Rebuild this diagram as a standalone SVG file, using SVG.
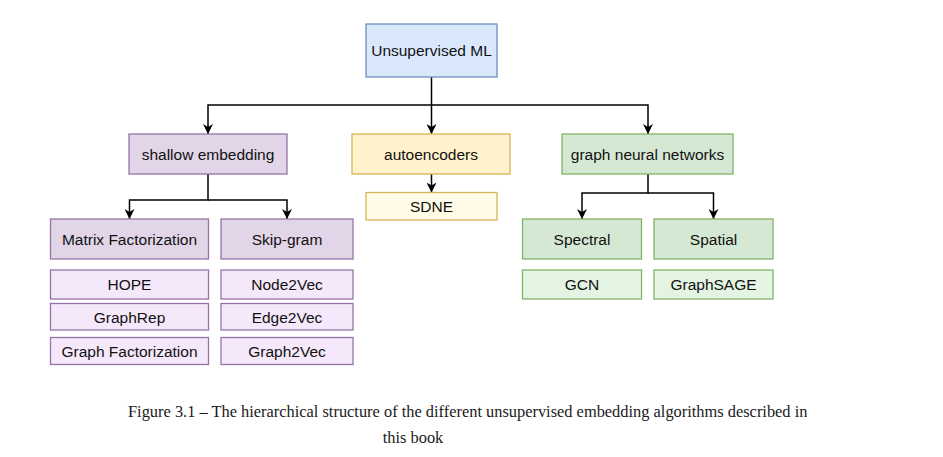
<svg xmlns="http://www.w3.org/2000/svg" width="943" height="457" viewBox="0 0 943 457">
<defs>
<marker id="arr" viewBox="0 0 10 10" refX="10" refY="5" markerWidth="10" markerHeight="10" markerUnits="userSpaceOnUse" orient="auto">
<path d="M0,0 L10,5 L0,10 L3,5 Z" fill="#000"/>
</marker>
</defs>
<style>
.n text{font-family:"Liberation Sans",Arial,sans-serif;font-size:15.5px;fill:#111;text-anchor:middle;dominant-baseline:central}
.n rect{stroke-width:1.3}
.blue rect{fill:#dae8fc;stroke:#6c8ebf}
.pur rect{fill:#e1d5e7;stroke:#9673a6}
.lpur rect{fill:#f6e8fb;stroke:#9673a6}
.yel rect{fill:#fff2cc;stroke:#d6b656}
.lyel rect{fill:#fffbe6;stroke:#d6b656}
.grn rect{fill:#d5e8d4;stroke:#82b366}
.lgrn rect{fill:#e4f4e2;stroke:#82b366}
.c path{fill:none;stroke:#000;stroke-width:1.5}
.cap{font-family:"Liberation Serif","Times New Roman",serif;font-size:16.4px;fill:#1a1a1a}
</style>
<rect width="943" height="457" fill="#fff"/>
<g class="c">
<path d="M431.5,77 V134" marker-end="url(#arr)"/>
<path d="M431.5,105 H208 V134" marker-end="url(#arr)"/>
<path d="M431.5,105 H648 V134" marker-end="url(#arr)"/>
<path d="M431.5,174 V192.5" marker-end="url(#arr)"/>
<path d="M208,174 V200 H129.5 V219" marker-end="url(#arr)"/>
<path d="M208,200 H287 V219" marker-end="url(#arr)"/>
<path d="M648,174 V193 H582 V219" marker-end="url(#arr)"/>
<path d="M648,193 H713.5 V219" marker-end="url(#arr)"/>
</g>
<g id="unsupervised" class="n blue"><rect x="366" y="24" width="131" height="53"/><text x="431.5" y="50.5">Unsupervised ML</text></g>
<g id="shallow" class="n pur"><rect x="129" y="134" width="158" height="40"/><text x="208" y="154">shallow embedding</text></g>
<g id="autoencoders" class="n yel"><rect x="352" y="134" width="158" height="40"/><text x="431" y="154">autoencoders</text></g>
<g id="sdne" class="n lyel"><rect x="366" y="192.5" width="131" height="27.5"/><text x="431.5" y="206.5">SDNE</text></g>
<g id="gnn" class="n grn"><rect x="562" y="134" width="171" height="40"/><text x="647.5" y="154">graph neural networks</text></g>
<g id="matrix" class="n pur"><rect x="50.5" y="219" width="158" height="40"/><text x="129.5" y="239">Matrix Factorization</text></g>
<g id="skipgram" class="n pur"><rect x="221" y="219" width="132" height="40"/><text x="287" y="239">Skip-gram</text></g>
<g id="hope" class="n lpur"><rect x="50.5" y="270" width="158" height="29"/><text x="129.5" y="284.5">HOPE</text></g>
<g id="graphrep" class="n lpur"><rect x="50.5" y="303.5" width="158" height="26.5"/><text x="129.5" y="317">GraphRep</text></g>
<g id="graphfact" class="n lpur"><rect x="50.5" y="337.5" width="158" height="27"/><text x="129.5" y="351">Graph Factorization</text></g>
<g id="node2vec" class="n lpur"><rect x="221" y="270" width="132" height="29"/><text x="287" y="284.5">Node2Vec</text></g>
<g id="edge2vec" class="n lpur"><rect x="221" y="303.5" width="132" height="26.5"/><text x="287" y="317">Edge2Vec</text></g>
<g id="graph2vec" class="n lpur"><rect x="221" y="337.5" width="132" height="27"/><text x="287" y="351">Graph2Vec</text></g>
<g id="spectral" class="n grn"><rect x="522.5" y="219" width="119" height="40"/><text x="582" y="239">Spectral</text></g>
<g id="spatial" class="n grn"><rect x="654" y="219" width="119" height="40"/><text x="713.5" y="239">Spatial</text></g>
<g id="gcn" class="n lgrn"><rect x="522.5" y="270" width="119" height="29"/><text x="582" y="284.5">GCN</text></g>
<g id="graphsage" class="n lgrn"><rect x="654" y="270" width="119" height="29"/><text x="713.5" y="284.5">GraphSAGE</text></g>
<text class="cap" x="128" y="417">Figure 3.1 – The hierarchical structure of the different unsupervised embedding algorithms described in</text>
<text class="cap" x="413" y="443" text-anchor="middle">this book</text>
</svg>
